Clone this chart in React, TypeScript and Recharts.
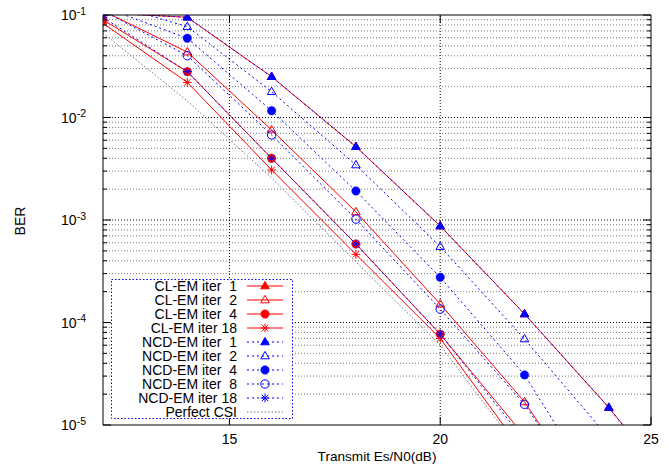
import React from 'react';
import { LineChart, Line, XAxis, YAxis, ReferenceLine, Legend } from 'recharts';

// ---------------- data ----------------
const snrDb = [12, 14, 16, 18, 20, 22, 24, 26];

const clIter1 = [0.105, 0.095, 0.025, 0.00519, 0.000873, 0.000121, 1.48e-5, 1.4e-6];
const clIter2 = [0.11, 0.0435, 0.00755, 0.0012, 0.000151, 1.68e-5, 1.0e-6, null];
const clIter4 = [0.09, 0.028, 0.004, 0.000583, 7.7e-5, 7.8e-6, null, null];
const clIter18 = [0.083, 0.022, 0.00308, 0.000462, 7.0e-5, 5.2e-6, null, null];

const ncdIter1 = [0.105, 0.095, 0.025, 0.00519, 0.000873, 0.000121, 1.48e-5, 1.4e-6];
const ncdIter2 = [0.135, 0.0769, 0.01786, 0.00344, 0.00055, 6.9e-5, 7.5e-6, null];
const ncdIter4 = [0.12, 0.0593, 0.01164, 0.00192, 0.000276, 3.08e-5, 1.5e-6, null];
const ncdIter8 = [0.11, 0.0401, 0.00675, 0.00102, 0.000135, 1.59e-5, 1.0e-6, null];
const ncdIter18 = [0.095, 0.028, 0.004, 0.000583, 7.7e-5, 7.1e-6, null, null];

const perfectCsi = [0.0667, 0.0145, 0.00257, 0.00039, 6.0e-5, 4.9e-6, null, null];

const xTicks = [15, 20, 25];
const xTopTicks = [15, 20];
const yDecades = [1e-5, 1e-4, 1e-3, 1e-2, 1e-1];
const yMinorMultipliers = [2, 3, 4, 5, 6, 7, 8, 9];
const yMinor = yDecades.slice(0, 4).flatMap((d) => yMinorMultipliers.map((m) => m * d));
const yTicks = [...yDecades, ...yMinor];
const xGrid = [15, 20];
const yGridMajor = [1e-4, 1e-3, 1e-2];

// ---------------- styling ----------------
const FONT = '"Liberation Sans", Arial, Helvetica, sans-serif';
const FS = 14;
const RED = '#ff0000';
const BLUE = '#0000ff';
const GRAY = '#707070';
const BLUE_DASH = '2 3';
const GRAY_DASH = '1.5 2';

type MarkerShape = 'triFilled' | 'triOpen' | 'circFilled' | 'circOpen' | 'star' | 'none';

interface SeriesDef {
  key: string;
  name: string;
  values: (number | null)[];
  color: string;
  dash?: string;
  marker: MarkerShape;
}

const series: SeriesDef[] = [
  { key: 'cl1', name: 'CL-EM iter  1', values: clIter1, color: RED, marker: 'triFilled' },
  { key: 'cl2', name: 'CL-EM iter  2', values: clIter2, color: RED, marker: 'triOpen' },
  { key: 'cl4', name: 'CL-EM iter  4', values: clIter4, color: RED, marker: 'circFilled' },
  { key: 'cl18', name: 'CL-EM iter 18', values: clIter18, color: RED, marker: 'star' },
  { key: 'ncd1', name: 'NCD-EM iter  1', values: ncdIter1, color: BLUE, dash: BLUE_DASH, marker: 'triFilled' },
  { key: 'ncd2', name: 'NCD-EM iter  2', values: ncdIter2, color: BLUE, dash: BLUE_DASH, marker: 'triOpen' },
  { key: 'ncd4', name: 'NCD-EM iter  4', values: ncdIter4, color: BLUE, dash: BLUE_DASH, marker: 'circFilled' },
  { key: 'ncd8', name: 'NCD-EM iter  8', values: ncdIter8, color: BLUE, dash: BLUE_DASH, marker: 'circOpen' },
  { key: 'ncd18', name: 'NCD-EM iter 18', values: ncdIter18, color: BLUE, dash: BLUE_DASH, marker: 'star' },
  { key: 'perfect', name: 'Perfect CSI', values: perfectCsi, color: GRAY, dash: GRAY_DASH, marker: 'none' },
];

const rows = snrDb.map((x, i) => {
  const row: Record<string, number | null> = { x };
  series.forEach((s) => {
    row[s.key] = s.values[i];
  });
  return row;
});

// ---------------- markers ----------------
function Marker({ shape, cx, cy, color }: { shape: MarkerShape; cx: number; cy: number; color: string }) {
  if (cx == null || cy == null || Number.isNaN(cx) || Number.isNaN(cy)) return <g />;
  switch (shape) {
    case 'triFilled':
    case 'triOpen': {
      const pts = `${cx},${cy - 4.6} ${cx - 4.3},${cy + 2.8} ${cx + 4.3},${cy + 2.8}`;
      return (
        <polygon
          points={pts}
          fill={shape === 'triFilled' ? color : 'none'}
          stroke={color}
          strokeWidth={1}
          strokeLinejoin="miter"
        />
      );
    }
    case 'circFilled':
      return <circle cx={cx} cy={cy} r={4.2} fill={color} stroke={color} strokeWidth={0.5} />;
    case 'circOpen':
      return <circle cx={cx} cy={cy} r={4.2} fill="none" stroke={color} strokeWidth={1} />;
    case 'star': {
      const a = 4.4;
      const b = 3.2;
      const d = `M${cx - a},${cy}H${cx + a}M${cx},${cy - a}V${cy + a}M${cx - b},${cy - b}L${cx + b},${cy + b}M${cx - b},${cy + b}L${cx + b},${cy - b}`;
      return <path d={d} stroke={color} strokeWidth={1} fill="none" />;
    }
    default:
      return <g />;
  }
}

const makeDot = (s: SeriesDef) => (props: any) => {
  const { cx, cy, index } = props;
  return (
    <g key={`${s.key}-dot-${index}`}>
      <Marker shape={s.marker} cx={cx} cy={cy} color={s.color} />
    </g>
  );
};

// ---------------- axis ticks ----------------
const isMajor = (v: number) => yDecades.some((d) => Math.abs(v / d - 1) < 1e-6);

const BottomTick = (props: any) => {
  const { x, y, payload } = props;
  return (
    <g>
      <line x1={x} x2={x} y1={y} y2={y - 8} stroke="#000" strokeWidth={1} />
      <text x={x} y={y + 19} textAnchor="middle" fontSize={FS} fontFamily={FONT} fill="#000">
        {payload.value}
      </text>
    </g>
  );
};

const TopTick = (props: any) => {
  const { x, y } = props;
  return <line x1={x} x2={x} y1={y} y2={y + 8} stroke="#000" strokeWidth={1} />;
};

const LeftTick = (props: any) => {
  const { x, y, payload } = props;
  const v = payload.value as number;
  const major = isMajor(v);
  const exp = Math.round(Math.log10(v));
  return (
    <g>
      <line x1={x} x2={x + (major ? 8 : 4)} y1={y} y2={y} stroke="#000" strokeWidth={1} />
      {major && (
        <text x={x - 17} y={y + 5} textAnchor="end" fontSize={FS} fontFamily={FONT} fill="#000">
          <tspan>10</tspan>
          <tspan dy={-5.5} fontSize={10.5}>
            {String(exp)}
          </tspan>
        </text>
      )}
    </g>
  );
};

const RightTick = (props: any) => {
  const { x, y, payload } = props;
  const major = isMajor(payload.value as number);
  return <line x1={x} x2={x - (major ? 8 : 4)} y1={y} y2={y} stroke="#000" strokeWidth={1} />;
};

const YTitle = (props: any) => {
  const vb = props.viewBox || { x: 0, y: 15, width: 103, height: 410 };
  const cx = vb.x + 25;
  const cy = vb.y + vb.height / 2 + 1;
  return (
    <text
      x={cx}
      y={cy}
      transform={`rotate(-90 ${cx} ${cy})`}
      textAnchor="middle"
      fontSize={FS}
      fontFamily={FONT}
      fill="#000"
    >
      BER
    </text>
  );
};

const XTitle = (props: any) => {
  const vb = props.viewBox || { x: 103, y: 425, width: 548, height: 39 };
  return (
    <text
      x={vb.x + vb.width / 2}
      y={vb.y + 35.5}
      textAnchor="middle"
      fontSize={13.6}
      fontFamily={FONT}
      fill="#000"
    >
      Transmit Es/N0(dB)
    </text>
  );
};

// ---------------- legend ----------------
const LEGEND_W = 182;
const LEGEND_H = 140;

const LegendBox = () => (
  <svg width={LEGEND_W} height={LEGEND_H} style={{ display: 'block' }}>
    <rect
      x={0.5}
      y={0.5}
      width={LEGEND_W - 1}
      height={LEGEND_H - 1}
      fill="#fff"
      stroke={BLUE}
      strokeWidth={1}
      strokeDasharray="1.5 2"
    />
    {series.map((s, i) => {
      const y = 7 + i * 14;
      return (
        <g key={s.key}>
          <text
            x={126}
            y={y + 5}
            textAnchor="end"
            fontSize={FS}
            fontFamily={FONT}
            fill="#000"
            style={{ whiteSpace: 'pre' }}
          >
            {s.name}
          </text>
          <line x1={136} x2={172} y1={y} y2={y} stroke={s.color} strokeWidth={1} strokeDasharray={s.dash} />
          {s.marker !== 'none' && <Marker shape={s.marker} cx={154} cy={y} color={s.color} />}
        </g>
      );
    })}
  </svg>
);

// ---------------- chart ----------------
export default function App() {
  return (
    <div style={{ position: 'absolute', left: 0, top: 0, width: 669, height: 464, background: '#fff' }}>
      <LineChart width={669} height={464} data={rows} margin={{ top: 0, right: 0, bottom: 0, left: 0 }}>
        {yMinor.map((v) => (
          <ReferenceLine key={`gm-${v}`} y={v} stroke="#7a7a7a" strokeWidth={1} strokeDasharray="1 2" />
        ))}
        {yGridMajor.map((v) => (
          <ReferenceLine key={`gM-${v}`} y={v} stroke="#000" strokeWidth={1} strokeDasharray="1 2" />
        ))}
        {xGrid.map((v) => (
          <ReferenceLine key={`gx-${v}`} x={v} stroke="#000" strokeWidth={1} strokeDasharray="1 2" />
        ))}
        <XAxis
          dataKey="x"
          type="number"
          domain={[12, 25]}
          allowDataOverflow
          ticks={xTicks}
          interval={0}
          height={39}
          tickSize={0}
          tickMargin={0}
          tickLine={false}
          axisLine={{ stroke: '#000', strokeWidth: 1 }}
          tick={BottomTick}
          label={XTitle}
        />
        <XAxis
          xAxisId="top"
          orientation="top"
          dataKey="x"
          type="number"
          domain={[12, 25]}
          allowDataOverflow
          ticks={xTopTicks}
          interval={0}
          height={15}
          tickSize={0}
          tickMargin={0}
          tickLine={false}
          axisLine={{ stroke: '#000', strokeWidth: 1 }}
          tick={TopTick}
        />
        <YAxis
          type="number"
          scale="log"
          domain={[1e-5, 1e-1]}
          allowDataOverflow
          ticks={yTicks}
          interval={0}
          width={103}
          tickSize={0}
          tickMargin={0}
          tickLine={false}
          axisLine={{ stroke: '#000', strokeWidth: 1 }}
          tick={LeftTick}
          label={YTitle}
        />
        <YAxis
          yAxisId="right"
          orientation="right"
          type="number"
          scale="log"
          domain={[1e-5, 1e-1]}
          allowDataOverflow
          ticks={yTicks}
          interval={0}
          width={18}
          tickSize={0}
          tickMargin={0}
          tickLine={false}
          axisLine={{ stroke: '#000', strokeWidth: 1 }}
          tick={RightTick}
        />
        {series.map((s) => (
          <Line
            key={s.key}
            dataKey={s.key}
            name={s.name}
            type="linear"
            stroke={s.color}
            strokeWidth={1}
            strokeDasharray={s.dash}
            dot={s.marker === 'none' ? false : makeDot(s)}
            activeDot={false}
            isAnimationActive={false}
            connectNulls={false}
          />
        ))}
        <Legend
          layout="horizontal"
          verticalAlign="middle"
          align="center"
          content={LegendBox}
          wrapperStyle={{ left: 111, top: 279, width: LEGEND_W, height: LEGEND_H, margin: 0, padding: 0 }}
        />
      </LineChart>
    </div>
  );
}
